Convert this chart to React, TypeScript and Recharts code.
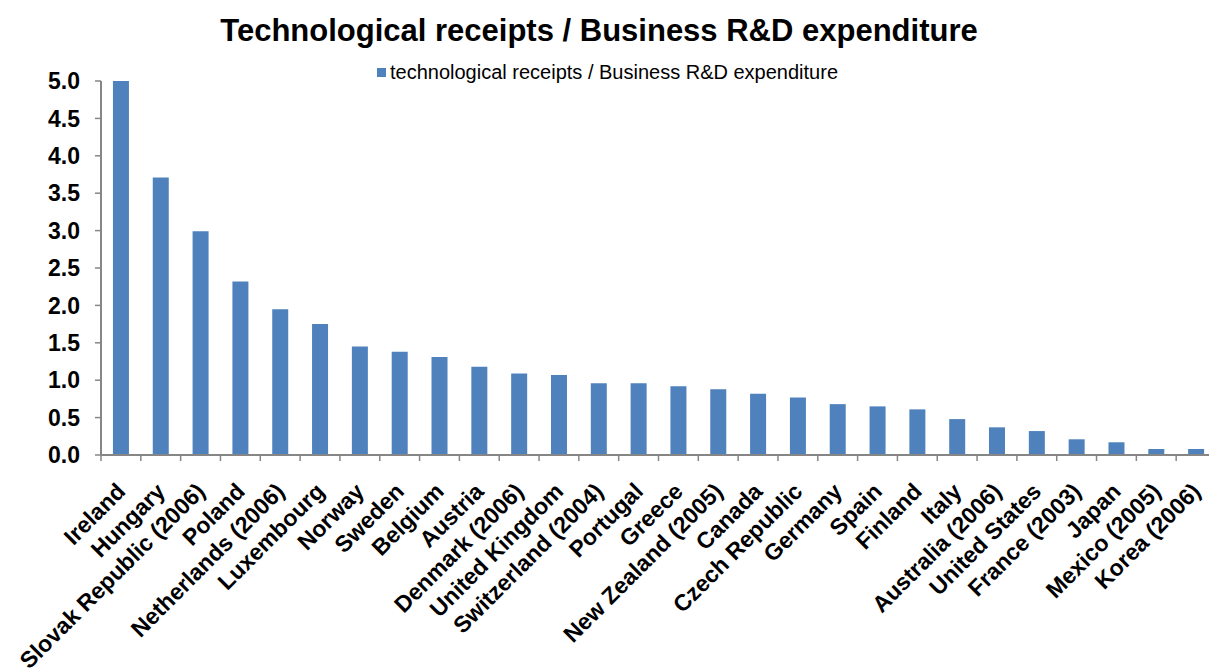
import React from "react";
import { BarChart, Bar, XAxis, YAxis, Legend } from "recharts";

const categories: string[] = [
  "Ireland",
  "Hungary",
  "Slovak Republic (2006)",
  "Poland",
  "Netherlands (2006)",
  "Luxembourg",
  "Norway",
  "Sweden",
  "Belgium",
  "Austria",
  "Denmark (2006)",
  "United Kingdom",
  "Switzerland (2004)",
  "Portugal",
  "Greece",
  "New Zealand (2005)",
  "Canada",
  "Czech Republic",
  "Germany",
  "Spain",
  "Finland",
  "Italy",
  "Australia (2006)",
  "United States",
  "France (2003)",
  "Japan",
  "Mexico (2005)",
  "Korea (2006)",
];

const ratioValues: number[] = [
  5.0, 3.71, 2.99, 2.32, 1.95, 1.75, 1.45, 1.38, 1.31, 1.18, 1.09, 1.07, 0.96,
  0.96, 0.92, 0.88, 0.82, 0.77, 0.68, 0.65, 0.61, 0.48, 0.37, 0.32, 0.21, 0.17,
  0.08, 0.08,
];

const yTicks: number[] = [0, 0.5, 1, 1.5, 2, 2.5, 3, 3.5, 4, 4.5, 5];

const seriesName = "technological receipts / Business R&D expenditure";
const chartTitle = "Technological receipts / Business R&D expenditure";

const data = categories.map((c, i) => ({ country: c, value: ratioValues[i] }));

const FONT = "'Liberation Sans', Arial, sans-serif";
const AXIS_COLOR = "#868686";
const BAR_COLOR = "#4F81BD";
const LABEL_GAP = 32;

const XTick = (props: any) => {
  const { x, y, payload, width, index } = props;
  const half =
    payload && typeof payload.offset === "number" && payload.offset > 0
      ? payload.offset
      : (width || 1115) / categories.length / 2;
  const cx = payload && typeof payload.coordinate === "number" ? payload.coordinate : x;
  const axisY = y - LABEL_GAP;
  return (
    <g>
      <line
        x1={cx - half}
        x2={cx - half}
        y1={axisY}
        y2={axisY + 6}
        stroke={AXIS_COLOR}
        strokeWidth={1.5}
      />
      {index === categories.length - 1 ? (
        <line
          x1={cx + half}
          x2={cx + half}
          y1={axisY}
          y2={axisY + 6}
          stroke={AXIS_COLOR}
          strokeWidth={1.5}
        />
      ) : null}
      <text
        x={x}
        y={y}
        transform={`rotate(-45 ${x} ${y})`}
        textAnchor="end"
        dy="0.36em"
        fontSize={23}
        fontWeight="bold"
        fontFamily={FONT}
        fill="#000"
      >
        {payload.value}
      </text>
    </g>
  );
};

const LegendContent = (props: any) => {
  const items = props.payload || [];
  return (
    <div style={{ display: "flex", alignItems: "center" }}>
      {items.map((it: any, i: number) => (
        <div key={i} style={{ display: "flex", alignItems: "center" }}>
          <div style={{ width: 9, height: 9, background: BAR_COLOR, marginRight: 4 }} />
          <span
            style={{
              fontFamily: FONT,
              fontSize: 20,
              color: "#000",
              lineHeight: "20px",
              whiteSpace: "nowrap",
            }}
          >
            {it.value}
          </span>
        </div>
      ))}
    </div>
  );
};

export default function App() {
  return (
    <div
      style={{
        position: "absolute",
        left: 0,
        top: 0,
        width: 1209,
        height: 670,
        overflow: "hidden",
        background: "#fff",
      }}
    >
      <svg
        width={1209}
        height={60}
        style={{ position: "absolute", left: 0, top: 0 }}
      >
        <text
          x={599}
          y={41}
          textAnchor="middle"
          fontFamily={FONT}
          fontWeight="bold"
          fontSize={31}
          fill="#000"
        >
          {chartTitle}
        </text>
      </svg>
      <BarChart
        width={1230}
        height={670}
        data={data}
        margin={{ top: 81, right: 14, bottom: 214, left: 0 }}
        barCategoryGap="30%"
        style={{ position: "absolute", left: 0, top: 0 }}
      >
        <XAxis
          dataKey="country"
          interval={0}
          height={1}
          tickLine={false}
          tickSize={0}
          tickMargin={LABEL_GAP}
          axisLine={{ stroke: AXIS_COLOR, strokeWidth: 2 }}
          tick={<XTick />}
        />
        <YAxis
          width={101}
          domain={[0, 5]}
          ticks={yTicks}
          interval={0}
          tickFormatter={(v: number) => v.toFixed(1)}
          tickSize={6}
          tickMargin={15}
          axisLine={{ stroke: AXIS_COLOR, strokeWidth: 2 }}
          tickLine={{ stroke: AXIS_COLOR, strokeWidth: 1.5 }}
          tick={{ fontSize: 23, fontWeight: "bold", fill: "#000", fontFamily: FONT }}
        />
        <Legend
          verticalAlign="middle"
          align="center"
          layout="horizontal"
          wrapperStyle={{ top: 62, left: 377, width: 700, height: 20 }}
          content={<LegendContent />}
        />
        <Bar
          dataKey="value"
          name={seriesName}
          fill={BAR_COLOR}
          isAnimationActive={false}
        />
      </BarChart>
    </div>
  );
}
